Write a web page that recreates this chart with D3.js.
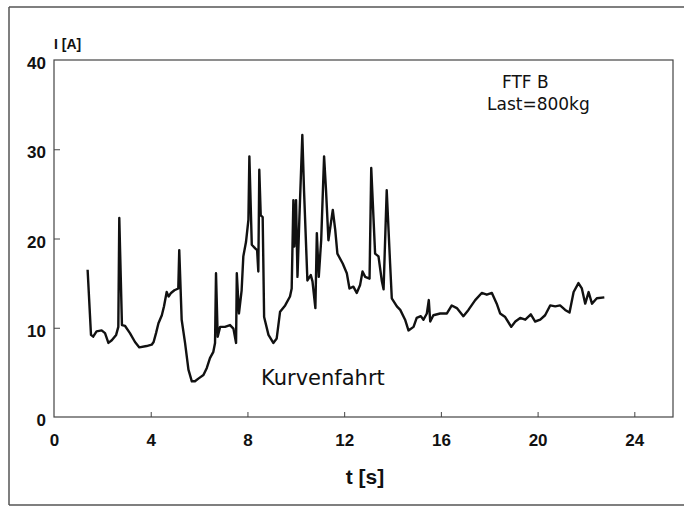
<!DOCTYPE html>
<html lang="de">
<head>
<meta charset="UTF-8">
<title>Kurvenfahrt</title>
<script src="https://cdn.jsdelivr.net/npm/d3@7/dist/d3.min.js"></script>
<style>
    body { margin: 0; background: #ffffff; }
    svg text { font-family: "Liberation Sans", Arial, sans-serif; fill: #111; }
    .tick text { font-weight: bold; font-size: 17px; }
    .tick line { stroke: #444; stroke-width: 1px; }
    .note { font-family: "DejaVu Sans", sans-serif !important; }
</style>
</head>
<body>
<div id="chart"></div>
<script>
    // Zeit [s] und Strom [A]
    var TIME = [1.39, 1.53, 1.62, 1.76, 1.97, 2.11, 2.25, 2.39, 2.57, 2.66, 2.70, 2.81, 2.94, 3.14, 3.35, 3.53, 3.83, 4.04, 4.12, 4.22,
        4.32, 4.46, 4.55, 4.66, 4.74, 4.84, 4.98, 5.14, 5.18, 5.28, 5.42, 5.56, 5.70, 5.83, 5.97, 6.18, 6.32, 6.45, 6.59, 6.66,
        6.70, 6.77, 6.87, 7.07, 7.28, 7.42, 7.53, 7.56, 7.65, 7.76, 7.83, 7.94, 8.04, 8.08, 8.18, 8.32, 8.40, 8.45, 8.49, 8.55,
        8.63, 8.69, 8.87, 9.07, 9.21, 9.35, 9.56, 9.76, 9.83, 9.90, 9.94, 10.01, 10.07, 10.15, 10.27, 10.34, 10.48, 10.62, 10.69, 10.81,
        10.87, 10.95, 11.05, 11.17, 11.25, 11.35, 11.53, 11.63, 11.72, 11.94, 12.11, 12.22, 12.38, 12.52, 12.66, 12.76, 12.87, 13.05, 13.12, 13.28,
        13.42, 13.56, 13.63, 13.76, 13.90, 13.97, 14.18, 14.32, 14.52, 14.66, 14.87, 15.00, 15.17, 15.28, 15.42, 15.50, 15.56, 15.69, 15.97, 16.25,
        16.45, 16.66, 16.93, 17.14, 17.42, 17.69, 17.90, 18.11, 18.31, 18.45, 18.66, 18.91, 19.08, 19.28, 19.49, 19.72, 19.90, 20.11, 20.31, 20.52,
        20.73, 20.93, 21.14, 21.32, 21.49, 21.69, 21.83, 21.97, 22.11, 22.25, 22.45, 22.76];
    var CURRENT = [16.5, 9.2, 9.0, 9.6, 9.7, 9.4, 8.3, 8.6, 9.2, 10.1, 22.3, 10.3, 10.2, 9.4, 8.4, 7.8, 7.95, 8.1, 8.4, 9.4,
        10.5, 11.4, 12.4, 14.0, 13.5, 13.9, 14.2, 14.4, 18.7, 10.9, 8.3, 5.3, 4.0, 4.0, 4.3, 4.7, 5.5, 6.6, 7.3, 8.3,
        16.1, 9.0, 10.1, 10.1, 10.3, 9.9, 8.3, 16.1, 11.6, 14.2, 18.0, 19.6, 22.1, 29.2, 19.3, 18.9, 18.7, 16.3, 27.7, 22.6,
        22.4, 11.2, 9.2, 8.3, 8.8, 11.8, 12.5, 13.5, 14.4, 24.3, 19.1, 24.3, 15.7, 22.4, 31.6, 25.4, 15.3, 15.9, 15.2, 12.2,
        20.6, 15.7, 19.8, 29.2, 25.4, 19.8, 23.2, 21.0, 18.3, 17.2, 16.1, 14.4, 14.6, 13.9, 14.8, 16.3, 15.7, 15.5, 27.9, 18.3,
        18.0, 15.2, 14.3, 25.4, 17.2, 13.3, 12.4, 12.0, 10.9, 9.7, 10.1, 11.1, 11.3, 10.9, 11.6, 13.1, 10.7, 11.4, 11.6, 11.6,
        12.5, 12.2, 11.3, 12.0, 13.1, 13.9, 13.7, 13.9, 12.7, 11.6, 11.2, 10.1, 10.7, 11.1, 10.9, 11.5, 10.7, 10.9, 11.4, 12.5,
        12.4, 12.5, 12.0, 11.7, 14.0, 15.0, 14.4, 12.7, 14.0, 12.7, 13.3, 13.4];

    var X_TICKS = [0, 4, 8, 12, 16, 20, 24];
    var Y_TICKS = [0, 10, 20, 30, 40];

    var WIDTH = 684, HEIGHT = 507;
    var LEFT = 54, RIGHT = 673, TOP = 60, BOTTOM = 417;

    var svg = d3.select("#chart").append("svg")
        .attr("width", WIDTH)
        .attr("height", HEIGHT);

    // Rahmen um das ganze Bild
    var frame = svg.append("g").attr("stroke", "#555").attr("stroke-width", 1.5);
    frame.append("line").attr("x1", 9).attr("x2", 9).attr("y1", 7).attr("y2", 505);
    frame.append("line").attr("x1", 9).attr("x2", WIDTH).attr("y1", 7).attr("y2", 7);
    frame.append("line").attr("x1", 9).attr("x2", WIDTH).attr("y1", 505).attr("y2", 505);

    var x = d3.scaleLinear().domain([0, 25.6]).range([LEFT, RIGHT]);
    var y = d3.scaleLinear().domain([0, 40]).range([BOTTOM, TOP]);

    var xAxis = svg.append("g")
        .attr("transform", "translate(0," + BOTTOM + ")")
        .call(d3.axisBottom(x).tickValues(X_TICKS).tickSizeInner(-5).tickSizeOuter(0).tickPadding(17));
    xAxis.select(".domain").remove();
    xAxis.selectAll(".tick").filter(function(d){ return d === 0; }).select("line").remove();

    var yAxis = svg.append("g")
        .attr("transform", "translate(" + LEFT + ",0)")
        .call(d3.axisLeft(y).tickValues(Y_TICKS).tickSizeInner(-6).tickSizeOuter(0).tickPadding(8));
    yAxis.select(".domain").remove();
    yAxis.selectAll(".tick").filter(function(d){ return d === 0 || d === 40; }).select("line").remove();
    yAxis.selectAll(".tick text").attr("dy", "0.5em");

    svg.append("rect")
        .attr("x", LEFT)
        .attr("y", TOP)
        .attr("width", RIGHT - LEFT)
        .attr("height", BOTTOM - TOP)
        .attr("fill", "none")
        .attr("stroke", "#444")
        .attr("stroke-width", 1.2);

    var line = d3.line()
        .x(function(d, i){ return x(TIME[i]); })
        .y(function(d){ return y(d); });

    svg.append("path")
        .datum(CURRENT)
        .attr("d", line)
        .attr("fill", "none")
        .attr("stroke", "#111")
        .attr("stroke-width", 2.4)
        .attr("stroke-linejoin", "round");

    svg.append("text")
        .attr("x", LEFT)
        .attr("y", 49)
        .style("font-size", "14px")
        .style("font-weight", "bold")
        .text("I [A]");

    svg.append("text")
        .attr("class", "note")
        .attr("x", 502)
        .attr("y", 88)
        .style("font-size", "17px")
        .text("FTF B");

    svg.append("text")
        .attr("class", "note")
        .attr("x", 487)
        .attr("y", 110)
        .style("font-size", "17px")
        .text("Last=800kg");

    svg.append("text")
        .attr("class", "note")
        .attr("x", 261)
        .attr("y", 385)
        .style("font-size", "21px")
        .text("Kurvenfahrt");

    svg.append("text")
        .attr("x", 365)
        .attr("y", 484)
        .attr("text-anchor", "middle")
        .style("font-size", "21px")
        .style("font-weight", "bold")
        .text("t [s]");
</script>
</body>
</html>
